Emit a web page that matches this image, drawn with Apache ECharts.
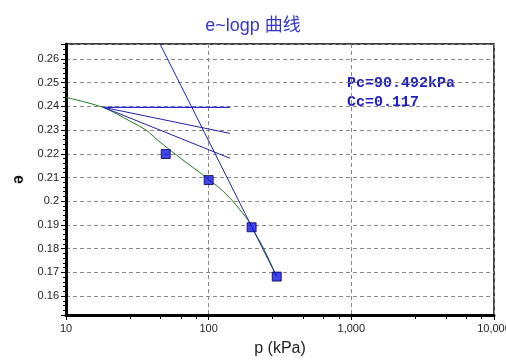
<!DOCTYPE html>
<html><head><meta charset="utf-8">
<script src="https://cdn.jsdelivr.net/npm/echarts@6/dist/echarts.min.js"></script>
<style>html,body{margin:0;padding:0;background:#fff}#c{width:506px;height:363px}</style>
</head><body><div id="c"></div>
<script>
// measured points (p in kPa, e)
const testP = [50, 100, 200, 300];
const testE = [0.2199, 0.2089, 0.1890, 0.1682];
// fitted e~logp curve (green)
const curveP = [10, 18.3, 28, 36.8, 43.4, 53.5, 66, 91, 100, 114, 141, 166, 195, 200, 240, 300];
const curveE = [0.2438, 0.2395, 0.2338, 0.2298, 0.2260, 0.2216, 0.2174, 0.2111, 0.2089, 0.2066, 0.2013, 0.1963, 0.1908, 0.1890, 0.1807, 0.1682];
// Casagrande construction lines
const horizP = [18.3, 141];  const horizE = [0.2396, 0.2396];
const bisectP = [18.3, 141]; const bisectE = [0.2396, 0.2286];
const tangP = [18.3, 141];   const tangE = [0.2396, 0.2181];
const compP = [38.6, 300];   const compE = [0.275, 0.1682];
const xTickLabels = [10, 100, 1000, 10000];
const minorXTicks = [28, 46, 64, 82, 280, 460, 640, 820, 2800, 4600, 6400, 8200];
const annot = ['Pc=90.492kPa', 'Cc=0.117'];

const zip = (a, b) => a.map((v, i) => [v, b[i]]);
const chart = echarts.init(document.getElementById('c'), null, {renderer: 'canvas'});
const lineBlue = '#2222a8';
chart.setOption({
  backgroundColor: '#ffffff',
  animation: false,
  title: {
    text: 'e~logp 曲线', left: 'center', top: 12,
    textStyle: {color: '#3535c8', fontSize: 18, fontWeight: 'normal', fontFamily: "'Liberation Sans','Noto Sans CJK SC',sans-serif"}
  },
  grid: {left: 66, right: 12, top: 44, bottom: 48, show: true, borderColor: '#000', borderWidth: 1.5, backgroundColor: 'transparent', outerBoundsMode: 'none', containLabel: false},
  xAxis: [{
    type: 'log', logBase: 10, min: 10, max: 10000,
    name: 'p (kPa)', nameLocation: 'middle', nameGap: 26,
    nameTextStyle: {fontSize: 16, color: '#222', fontFamily: "'Liberation Sans',sans-serif"},
    axisLine: {lineStyle: {color: '#000', width: 3}},
    axisTick: {show: true, length: 5, lineStyle: {color: '#000'}},
    axisLabel: {color: '#222', fontSize: 11, margin: 8, hideOverlap: false, fontFamily: "'Liberation Sans',sans-serif",
      formatter: v => Number(v).toLocaleString('en-US')},
    splitLine: {show: true, lineStyle: {color: '#888', type: [4, 3], width: 1}}
  }, {
    type: 'value', min: 1, max: 4, position: 'bottom', gridIndex: 0,
    axisLine: {show: false},
    axisLabel: {show: false},
    splitLine: {show: false},
    axisTick: {show: true, length: 4, lineStyle: {color: '#000'}, customValues: minorXTicks.map(v => Math.log10(v))}
  }],
  yAxis: {
    type: 'value', min: 0.152, max: 0.2663, splitNumber: 11,
    name: 'e', nameLocation: 'middle', nameGap: 40, nameRotate: -90,
    nameTextStyle: {fontSize: 16, fontWeight: 'bold', color: '#111', fontFamily: "'Liberation Sans',sans-serif"},
    axisLine: {show: true, lineStyle: {color: '#000', width: 3}},
    axisTick: {show: true, length: 5, lineStyle: {color: '#000'}},
    minorTick: {show: true, splitNumber: 5, length: 3, lineStyle: {color: '#000'}},
    axisLabel: {color: '#222', fontSize: 11, margin: 7, showMinLabel: false, showMaxLabel: false, fontFamily: "'Liberation Sans',sans-serif"},
    splitLine: {show: true, lineStyle: {color: '#888', type: [4, 3], width: 1}}
  },
  series: [
    {type: 'line', data: zip(curveP, curveE), smooth: 0.3, showSymbol: false, lineStyle: {color: '#1e7a1e', width: 1}, z: 2},
    {type: 'line', data: zip(horizP, horizE), showSymbol: false, lineStyle: {color: '#2a2ad0', width: 1.2}, z: 4},
    {type: 'line', data: zip(bisectP, bisectE), showSymbol: false, lineStyle: {color: lineBlue, width: 1}, z: 3},
    {type: 'line', data: zip(tangP, tangE), showSymbol: false, lineStyle: {color: lineBlue, width: 1}, z: 3},
    {type: 'line', data: zip(compP, compE), showSymbol: false, clip: true, lineStyle: {color: lineBlue, width: 1}, z: 3},
    {type: 'scatter', data: zip(testP, testE), symbol: 'rect', symbolSize: 9,
      itemStyle: {color: '#1414e6', borderColor: '#00005a', borderWidth: 1}, z: 5}
  ],
  graphic: [
    {type: 'text', left: 347, top: 76, style: {text: annot[0], fill: '#2020c0', font: "bold 15px 'Liberation Mono', monospace"}},
    {type: 'text', left: 347, top: 95, style: {text: annot[1], fill: '#2020c0', font: "bold 15px 'Liberation Mono', monospace"}}
  ]
});
</script>
</body></html>
